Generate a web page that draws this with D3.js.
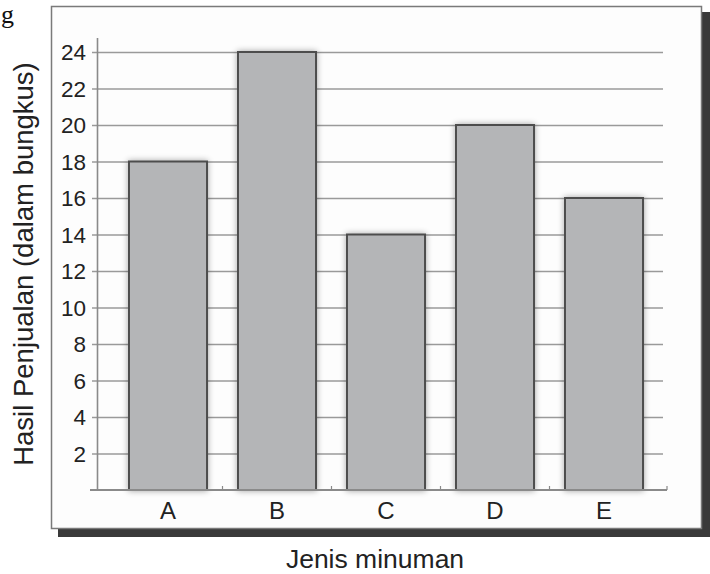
<!DOCTYPE html>
<html>
<head>
<meta charset="utf-8">
<script src="https://cdn.jsdelivr.net/npm/d3@7"></script>
<style>
  html, body { margin: 0; padding: 0; background: #fff; }
  svg { display: block; }
  text { font-family: "Liberation Sans", Arial, Helvetica, sans-serif; fill: #222; }
</style>
</head>
<body>
<svg id="chart" width="710" height="574"></svg>
<script>
const categories = ["A", "B", "C", "D", "E"];
const values = [18, 24, 14, 20, 16];
const yTicks = [2, 4, 6, 8, 10, 12, 14, 16, 18, 20, 22, 24];
const yTitle = "Hasil Penjualan (dalam bungkus)";
const xTitle = "Jenis minuman";

const svg = d3.select("#chart");

// stray page letter at top-left
svg.append("text").attr("x", 1).attr("y", 23)
  .style("font-family", "'Liberation Serif', 'Times New Roman', serif")
  .style("font-size", "26px").style("fill", "#111").text("g");

// frame shadow + frame
svg.append("rect").attr("x", 58).attr("y", 12).attr("width", 652).attr("height", 525).attr("fill", "#3a3a3a");
svg.append("rect").attr("x", 51.5).attr("y", 6.5).attr("width", 650).attr("height", 522)
  .attr("fill", "#fdfdfd").attr("stroke", "#7a7a7a").attr("stroke-width", 1.5);

const defs = svg.append("defs");
const f = defs.append("filter").attr("id", "glow").attr("x", "-20%").attr("y", "-20%").attr("width", "140%").attr("height", "140%");
f.append("feGaussianBlur").attr("in", "SourceAlpha").attr("stdDeviation", 3).attr("result", "b");
f.append("feComponentTransfer").attr("in", "b").attr("result", "c")
  .append("feFuncA").attr("type", "linear").attr("slope", 0.35);
const m = f.append("feMerge");
m.append("feMergeNode").attr("in", "c");
m.append("feMergeNode").attr("in", "SourceGraphic");

const y = d3.scaleLinear().domain([0, 24]).range([490, 52]);
const x = d3.scaleBand().domain(categories).range([113.5, 658.5]).paddingInner(0.284).paddingOuter(0.142);

// gridlines + tick labels
const yAxis = d3.axisLeft(y).tickValues(yTicks).tickSizeInner(-571).tickSizeOuter(0).tickPadding(6);
const gy = svg.append("g").attr("transform", "translate(92,0)").call(yAxis);
gy.select(".domain").remove();
gy.selectAll(".tick line").attr("stroke", "#9a9a9a").attr("stroke-width", 1.6);
gy.selectAll(".tick text").style("font-size", "22.5px").style("fill", "#222").attr("dy", "0.35em");

// vertical y axis line
svg.append("line").attr("x1", 97.5).attr("x2", 97.5).attr("y1", 38).attr("y2", 490)
  .attr("stroke", "#8a8a8a").attr("stroke-width", 1.6);

// bars
svg.append("g").selectAll("rect").data(categories).join("rect")
  .attr("x", d => x(d))
  .attr("y", (d, i) => y(values[i]))
  .attr("width", x.bandwidth())
  .attr("height", (d, i) => y(0) - y(values[i]))
  .attr("fill", "#b4b5b7")
  .attr("stroke", "#4d4d4d")
  .attr("stroke-width", 2)
  .attr("filter", "url(#glow)");

// baseline
svg.append("line").attr("x1", 90).attr("x2", 667).attr("y1", 490).attr("y2", 490)
  .attr("stroke", "#8a8a8a").attr("stroke-width", 1.8);
// small separator ticks
const seps = categories.slice(1).map(c => x(c) - x.step() * x.paddingInner() / 2).concat([667]);
svg.append("g").selectAll("line").data(seps).join("line")
  .attr("x1", d => d).attr("x2", d => d).attr("y1", 486).attr("y2", 490)
  .attr("stroke", "#8a8a8a").attr("stroke-width", 1.2);

// category labels
const xAxis = d3.axisBottom(x).tickSize(0).tickPadding(0);
const gx = svg.append("g").attr("transform", "translate(0,490)").call(xAxis);
gx.select(".domain").remove();
gx.selectAll(".tick text").attr("y", 29).attr("dy", 0).style("font-size", "24px").style("fill", "#222");

// axis titles
svg.append("text").attr("transform", "translate(33,264) rotate(-90)")
  .attr("text-anchor", "middle").style("font-size", "27.5px").text(yTitle);
svg.append("text").attr("x", 375).attr("y", 568)
  .attr("text-anchor", "middle").style("font-size", "26.5px").text(xTitle);
</script>
</body>
</html>
